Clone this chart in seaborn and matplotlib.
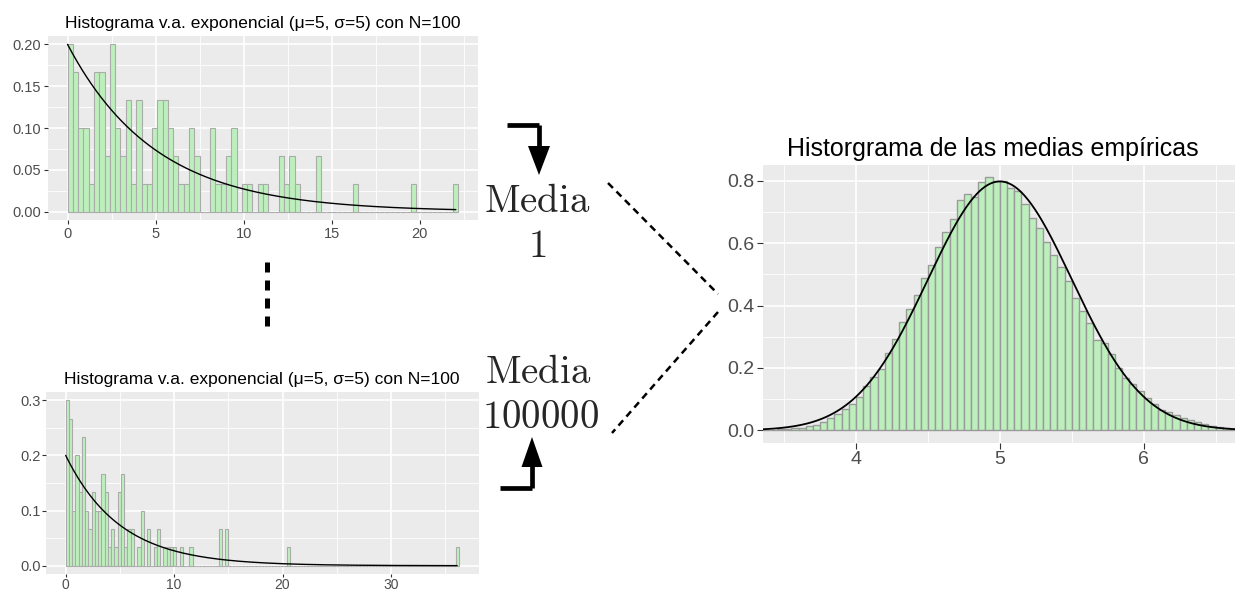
import numpy as np
import pandas as pd
import matplotlib
matplotlib.use("Agg")
import matplotlib.pyplot as plt
import seaborn as sns
from matplotlib.lines import Line2D
from matplotlib.patches import Polygon

# --- data ---
mu, sigma, n_obs = 5, 5, 100
bw_exp = 0.3          # bin width of both exponential histograms
bw_means = 0.05       # bin width of the histogram of means

# sample 1: non-empty bins (index of bin [0.3*k, 0.3*(k+1)]) and their counts
top_bins = list(range(25)) + [27, 28, 29, 30, 31, 33, 34, 36, 37, 40, 41, 42, 43, 47, 54, 65, 73]
top_counts = [6, 5, 3, 3, 1, 5, 5, 2, 6, 3, 2, 4, 1, 4, 1, 1, 3, 4, 4, 3, 2, 1, 1, 3, 2,
              3, 1, 1, 2, 3, 1, 1, 1, 1, 2, 1, 2, 1, 2, 1, 1, 1]
top_nbins = 74
top_max = 22.05

# sample 100000
bot_bins = list(range(21)) + [22, 23, 25, 27, 28, 30, 31, 32, 33, 35, 38, 47, 49, 68, 120]
bot_counts = [9, 8, 3, 6, 4, 7, 3, 2, 4, 3, 3, 5, 4, 1, 2, 1, 4, 5, 1, 2, 2,
              1, 3, 2, 1, 2, 1, 1, 1, 1, 1, 1, 2, 2, 1, 1]
bot_nbins = 121
bot_max = 36.1

# histogram of the empirical means (density per bin, first bin starts at 3.35)
means_start = 3.35
means_density = [0.002, 0.002, 0.003, 0.004, 0.006, 0.009, 0.014, 0.018, 0.027, 0.040,
                 0.052, 0.068, 0.084, 0.108, 0.141, 0.172, 0.198, 0.247, 0.292, 0.348,
                 0.388, 0.434, 0.487, 0.529, 0.588, 0.636, 0.679, 0.737, 0.757, 0.748,
                 0.797, 0.811, 0.800, 0.800, 0.778, 0.766, 0.727, 0.680, 0.648, 0.605,
                 0.563, 0.524, 0.479, 0.424, 0.383, 0.343, 0.291, 0.279, 0.244, 0.201,
                 0.169, 0.148, 0.126, 0.105, 0.086, 0.065, 0.060, 0.049, 0.041, 0.033,
                 0.026, 0.019, 0.014, 0.010, 0.006, 0.004]
means_xlim = (3.353, 6.635)

title_exp = "Histograma v.a. exponencial (\u03bc=5, \u03c3=5) con N=100"
title_means = "Historgrama de las medias emp\u00edricas"

# --- style ---
sns.set_theme(style="darkgrid", rc={"axes.facecolor": "#EBEBEB", "grid.color": "white"})
plt.rcParams["font.family"] = ["Liberation Sans", "DejaVu Sans"]
plt.rcParams["mathtext.fontset"] = "cm"

W, H = 1235, 590
fig = plt.figure(figsize=(W / 100, H / 100), dpi=100)
fig.patch.set_facecolor("white")


def rect(l, t, r, b):
    return [l / W, 1 - b / H, (r - l) / W, (b - t) / H]


def fx(x):
    return x / W


def fy(y):
    return 1 - y / H


FILL = "#BDEFBD"


def style_axis(ax, xmaj, xmin, ymaj, ymin, ylabels, size, tlen, pad=2):
    ax.set_xticks(xmaj)
    ax.set_xticks(xmin, minor=True)
    ax.set_yticks(ymaj)
    ax.set_yticks(ymin, minor=True)
    ax.set_yticklabels(ylabels)
    ax.set_xticklabels([str(v) for v in xmaj])
    ax.grid(True, which="major", color="white", lw=1.2)
    ax.grid(True, which="minor", color="white", lw=0.6)
    ax.set_axisbelow(True)
    for s in ax.spines.values():
        s.set_visible(False)
    ax.tick_params(which="major", length=tlen, width=0.8, color="#333333",
                   labelcolor="#4D4D4D", labelsize=size, pad=pad,
                   bottom=True, left=True)
    ax.tick_params(which="minor", length=0)
    ax.set_xlabel("")
    ax.set_ylabel("")


def exp_panel(ax, bins, counts, nbins, xmax, xmaj, xmin, ymaj, ymin, ylabels, ylim, pad=2):
    full = np.zeros(nbins)
    full[bins] = counts
    edges = np.arange(nbins + 1) * bw_exp
    df = pd.DataFrame({"x": edges[:-1] + bw_exp / 2, "d": full / (n_obs * bw_exp)})
    sns.histplot(data=df, x="x", weights="d", bins=edges.tolist(), stat="count", ax=ax,
                 color=FILL, edgecolor="#ABABAB", linewidth=0.8, alpha=1)
    xs = np.linspace(0, xmax, 400)
    curve = pd.DataFrame({"x": xs, "y": np.exp(-xs / mu) / mu})
    sns.lineplot(data=curve, x="x", y="y", ax=ax, color="black", lw=1.0)
    margin = 0.05 * (edges[-1])
    ax.set_xlim(-margin, edges[-1] + margin)
    ax.set_ylim(*ylim)
    style_axis(ax, xmaj, xmin, ymaj, ymin, ylabels, 10.5, 3, pad)


ax1 = fig.add_axes(rect(48, 36, 478, 220))
exp_panel(ax1, top_bins, top_counts, top_nbins, top_max,
          [0, 5, 10, 15, 20], [2.5, 7.5, 12.5, 17.5, 22.5],
          [0, 0.05, 0.10, 0.15, 0.20], [0.025, 0.075, 0.125, 0.175],
          ["0.00", "0.05", "0.10", "0.15", "0.20"], (-0.01, 0.21))
fig.text(fx(263), fy(28), title_exp, ha="center", va="baseline", fontsize=12.5, color="black")

ax2 = fig.add_axes(rect(46, 392, 479, 574))
exp_panel(ax2, bot_bins, bot_counts, bot_nbins, bot_max,
          [0, 10, 20, 30], [5, 15, 25, 35],
          [0, 0.1, 0.2, 0.3], [0.05, 0.15, 0.25],
          ["0.0", "0.1", "0.2", "0.3"], (-0.015, 0.315), pad=1)
ax2.tick_params(axis="x", labelsize=10, length=2.5, pad=0.5)
fig.text(fx(262), fy(384), title_exp, ha="center", va="baseline", fontsize=12.5, color="black")

# histogram of the means
ax3 = fig.add_axes(rect(763, 165, 1235, 443))
m_edges = means_start + np.arange(len(means_density) + 1) * bw_means
mdf = pd.DataFrame({"x": m_edges[:-1] + bw_means / 2, "d": means_density})
sns.histplot(data=mdf, x="x", weights="d", bins=m_edges.tolist(), stat="count", ax=ax3,
             color=FILL, edgecolor="#9A9A9A", linewidth=1.0, alpha=1)
se = sigma / np.sqrt(n_obs)
xs = np.linspace(means_xlim[0], means_xlim[1], 400)
ncurve = pd.DataFrame({"x": xs, "y": np.exp(-0.5 * ((xs - mu) / se) ** 2) / (se * np.sqrt(2 * np.pi))})
sns.lineplot(data=ncurve, x="x", y="y", ax=ax3, color="black", lw=1.3)
ax3.set_xlim(*means_xlim)
ax3.set_ylim(-0.0405, 0.8505)
style_axis(ax3, [4, 5, 6], [3.5, 4.5, 5.5, 6.5], [0, 0.2, 0.4, 0.6, 0.8],
           [0.1, 0.3, 0.5, 0.7], ["0.0", "0.2", "0.4", "0.6", "0.8"], 14, 4)
fig.text(fx(993), fy(156), title_means, ha="center", va="baseline", fontsize=18, color="black")

# --- connecting annotations ---
def fig_line(xs_px, ys_px, **kw):
    fig.add_artist(Line2D([fx(x) for x in xs_px], [fy(y) for y in ys_px],
                          transform=fig.transFigure, **kw))


def fig_head(pts):
    fig.add_artist(Polygon([(fx(x), fy(y)) for x, y in pts], closed=True,
                           transform=fig.transFigure, facecolor="black", edgecolor="none"))


# top arrow
fig_line([507, 539], [125, 125], color="black", lw=3.4, solid_capstyle="butt")
fig_line([539, 539], [125, 150], color="black", lw=3.4, solid_capstyle="butt")
fig_head([(528, 146), (550, 146), (539, 175)])
# bottom arrow
fig_line([500, 532], [487.5, 487.5], color="black", lw=3.4, solid_capstyle="butt")
fig_line([532, 532], [487.5, 462], color="black", lw=3.4, solid_capstyle="butt")
fig_head([(521.5, 467), (542.5, 467), (532, 437)])

# vertical ellipsis between the two samples
fig_line([267, 267], [262, 332], color="black", lw=3.6, dashes=(2.0, 1.6))

# dashed connectors
fig_line([608, 718], [183, 294], color="black", lw=1.8, dashes=(2.8, 2.0))
fig_line([718, 612], [312, 433], color="black", lw=1.8, dashes=(2.8, 2.0))

# labels
fig.text(fx(537), fy(212), r"$\mathrm{Media}$", ha="center", va="baseline", fontsize=28)
fig.text(fx(537), fy(257), r"$\mathrm{1}$", ha="center", va="baseline", fontsize=28)
fig.text(fx(538), fy(383), r"$\mathrm{Media}$", ha="center", va="baseline", fontsize=28)
fig.text(fx(541), fy(428), r"$\mathrm{100000}$", ha="center", va="baseline", fontsize=28)

fig.savefig("out.png", dpi=100, facecolor="white")
